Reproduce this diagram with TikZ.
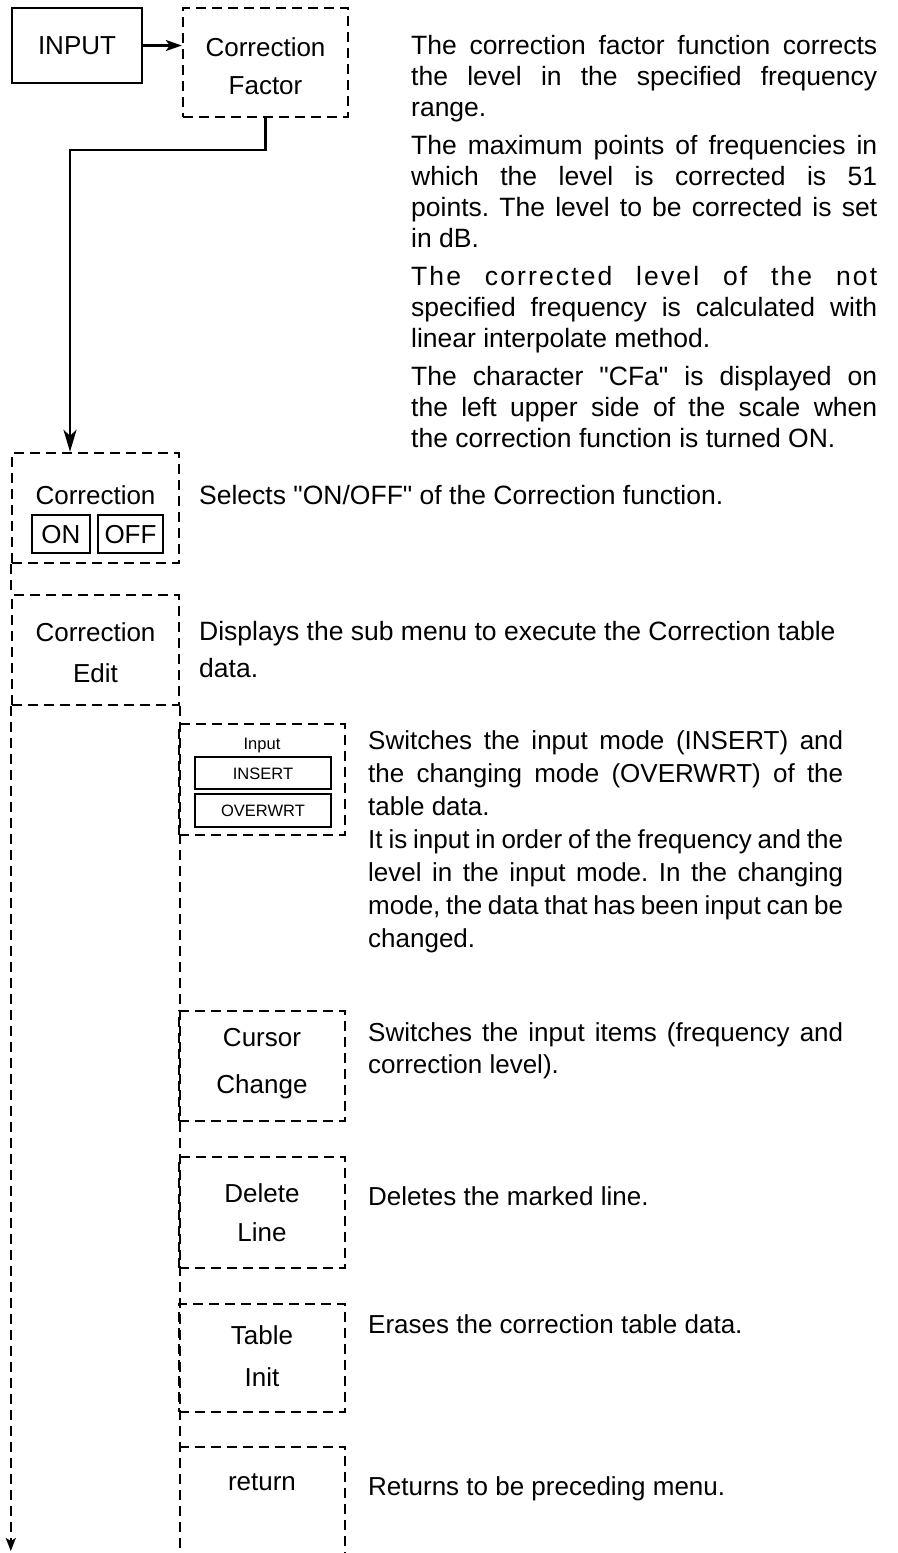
\documentclass[tikz,border=0pt]{standalone}
\usepackage{fontspec}
\setmainfont{Liberation Sans}[Ligatures=TeXOff]
\usetikzlibrary{arrows.meta}
\newcommand\jst[2]{\makebox[#1][s]{#2}}
\frenchspacing
\begin{document}
\begin{tikzpicture}[x=1pt,y=-1pt,
  dbox/.style={draw, line width=2.4pt, dash pattern=on 10pt off 6pt, inner sep=0pt},
  tbox/.style={draw, line width=2pt, inner sep=0pt},
  sbox/.style={draw, line width=2.6pt, inner sep=0pt},
  dline/.style={line width=2.4pt, dash pattern=on 10pt off 6pt},
  conn/.style={line width=2.5pt},
  lbl/.style={font=\fontsize{26}{30}\selectfont, inner sep=0pt, anchor=base},
  smalllbl/.style={font=\fontsize{16.5}{18}\selectfont, inner sep=0pt, anchor=base},
  desc/.style={font=\fontsize{26}{30}\selectfont, inner sep=0pt, anchor=base west},
  descL/.style={font=\fontsize{26.5}{30}\selectfont, inner sep=0pt, anchor=base west},
  arrS/.style={-{Stealth[length=16pt,width=11pt,inset=4pt]}},
  arrL/.style={-{Stealth[length=22pt,width=13pt,inset=6pt]}},
  arrB/.style={-{Stealth[length=13pt,width=10pt,inset=3pt]}}
]
\useasboundingbox (0,0) rectangle (897,1553);

% ---------- top boxes
\node[sbox, minimum width=130, minimum height=75] (inp) at (77,45.5) {};
\node[lbl] (inpl) at (77,54) {INPUT};
\node[dbox, minimum width=165, minimum height=109] (cf) at (265.5,62.5) {};
\node[lbl] (cfl1) at (265.5,56) {Correction};
\node[lbl] (cfl2) at (265.5,94) {Factor};
\draw[conn, arrS] (inp.east) -- (inp.east -| cf.west);

% ---------- left column
\node[dbox, minimum width=167, minimum height=110] (cor) at (95.5,508) {};
\node[lbl] (corl) at (95.5,504) {Correction};
\node[tbox, minimum width=58, minimum height=38] (on) at (61,534) {};
\node[lbl] (onl) at (61,543) {ON};
\node[tbox, minimum width=65, minimum height=38] (off) at (130.5,534) {};
\node[lbl] (offl) at (130.5,543) {OFF};

\coordinate (bend) at (70,150);
\draw[conn, arrL] (cf.south) |- (bend) -- (bend |- cor.north);

\node[dbox, minimum width=167, minimum height=110] (ced) at (95.5,650) {};
\node[lbl] (cedl1) at (95.5,641) {Correction};
\node[lbl] (cedl2) at (95.5,682) {Edit};
\draw[dline] (cor.south west) -- (ced.north west);

\coordinate (endL) at (12,1551);
\draw[dline, arrB] (ced.south west) -- (ced.south west |- endL);
\coordinate (endR) at (179,1553);
\draw[dline] (ced.south east) -- (ced.south east |- endR);

% ---------- sub menu boxes
\node[dbox, minimum width=166, minimum height=111] (inb) at (262,779.5) {};
\node[smalllbl] (inbl) at (262,749) {Input};
\node[tbox, minimum width=136, minimum height=32] (ins) at (263,773) {};
\node[smalllbl] (insl) at (263,779) {INSERT};
\node[tbox, minimum width=136, minimum height=33] (ovw) at (263,810.5) {};
\node[smalllbl] (ovwl) at (263,816.5) {OVERWRT};

\node[dbox, minimum width=166, minimum height=110] (cur) at (262,1066) {};
\node[lbl] (curl1) at (262,1046) {Cursor};
\node[lbl] (curl2) at (262,1093) {Change};

\node[dbox, minimum width=166, minimum height=111] (del) at (262,1212.5) {};
\node[lbl] (dell1) at (262,1202) {Delete};
\node[lbl] (dell2) at (262,1241) {Line};

\node[dbox, minimum width=166, minimum height=108] (tab) at (262,1358) {};
\node[lbl] (tabl1) at (262,1344) {Table};
\node[lbl] (tabl2) at (262,1386) {Init};

\node[minimum width=166, minimum height=106, inner sep=0pt] (ret) at (262,1500) {};
\draw[dline] (ret.north west) -- (ret.north east) -- (ret.south east);
\node[lbl] (retl) at (262,1490) {return};

% ---------- descriptions: top paragraph
\node[descL] (p1) at (411,54)  {\jst{466pt}{The correction factor function corrects}};
\node[descL] (p2) at (411,85)  {\jst{466pt}{the level in the specified frequency}};
\node[descL] (p3) at (411,116) {range.};
\node[descL] (p4) at (411,154) {\jst{466pt}{The maximum points of frequencies in}};
\node[descL] (p5) at (411,185) {\jst{466pt}{which the level is corrected is 51}};
\node[descL] (p6) at (411,216) {\jst{466pt}{points. The level to be corrected is set}};
\node[descL] (p7) at (411,247) {in dB.};
\node[descL] (p8) at (411,285) {\addfontfeature{LetterSpace=8}\jst{466pt}{The corrected level of the not}};
\node[descL] (p9) at (411,316) {\jst{466pt}{specified frequency is calculated with}};
\node[descL] (p10) at (411,347) {linear interpolate method.};
\node[descL] (p11) at (411,385) {\jst{466pt}{The character "CFa" is displayed on}};
\node[descL] (p12) at (411,416) {\jst{466pt}{the left upper side of the scale when}};
\node[descL] (p13) at (411,447) {the correction function is turned ON.};

% ---------- descriptions: left column
\node[descL] (s1) at (199,504) {Selects "ON/OFF" of the Correction function.};
\node[descL] (e1) at (199,640) {Displays the sub menu to execute the Correction table};
\node[descL] (e2) at (199,677) {data.};

% ---------- descriptions: sub menu
\node[desc] (i1) at (368,749) {\jst{475pt}{Switches the input mode (INSERT) and}};
\node[desc] (i2) at (368,782) {\jst{475pt}{the changing mode (OVERWRT) of the}};
\node[desc] (i3) at (368,815) {table data.};
\node[desc] (i4) at (368,848) {\jst{475pt}{It is input in order of the frequency and the}};
\node[desc] (i5) at (368,881) {\jst{475pt}{level in the input mode. In the changing}};
\node[desc] (i6) at (368,914) {\jst{475pt}{mode, the data that has been input can be}};
\node[desc] (i7) at (368,947) {changed.};

\node[desc] (c1) at (368,1041) {\jst{475pt}{Switches the input items (frequency and}};
\node[desc] (c2) at (368,1073) {correction level).};

\node[desc] (d1) at (368,1205) {Deletes the marked line.};
\node[desc] (t1) at (368,1333) {Erases the correction table data.};
\node[desc] (r1) at (368,1495) {Returns to be preceding menu.};
\end{tikzpicture}
\end{document}
